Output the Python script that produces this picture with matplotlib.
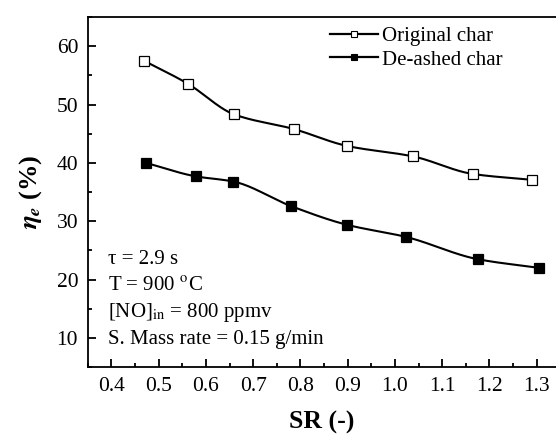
import matplotlib
matplotlib.use("Agg")
import matplotlib.pyplot as plt
import numpy as np
from matplotlib.ticker import MultipleLocator

plt.rcParams['font.family'] = ['Liberation Serif', 'DejaVu Serif']
plt.rcParams['mathtext.fontset'] = 'stix'

# data
sr_orig = [0.469, 0.561, 0.660, 0.786, 0.899, 1.039, 1.165, 1.290]
eta_orig = [57.5, 53.6, 48.3, 45.8, 42.9, 41.1, 38.1, 37.1]
sr_ash = [0.473, 0.578, 0.658, 0.780, 0.898, 1.024, 1.175, 1.306]
eta_ash = [40.0, 37.7, 36.8, 32.6, 29.4, 27.3, 23.5, 22.0]

labels = ['Original char', 'De-ashed char']
notes = ['τ = 2.9 s', r'T = 900 $^{\rm o}$C',
         r'[NO]$_{\rm in}$ = 800 ppmv', 'S. Mass rate = 0.15 g/min']


def pchip(x, y, n=300):
    # monotone cubic (Fritsch-Carlson), only used to draw the connecting line
    x = np.asarray(x, float)
    y = np.asarray(y, float)
    h = np.diff(x)
    d = np.diff(y) / h
    m = np.zeros_like(y)
    for i in range(1, len(x) - 1):
        if d[i - 1] * d[i] > 0:
            w1 = 2 * h[i] + h[i - 1]
            w2 = h[i] + 2 * h[i - 1]
            m[i] = (w1 + w2) / (w1 / d[i - 1] + w2 / d[i])
    m[0] = d[0]
    m[-1] = d[-1]
    xs = np.linspace(x[0], x[-1], n)
    k = np.clip(np.searchsorted(x, xs) - 1, 0, len(x) - 2)
    t = (xs - x[k]) / h[k]
    h00 = 2 * t ** 3 - 3 * t ** 2 + 1
    h10 = t ** 3 - 2 * t ** 2 + t
    h01 = -2 * t ** 3 + 3 * t ** 2
    h11 = t ** 3 - t ** 2
    ys = h00 * y[k] + h10 * h[k] * m[k] + h01 * y[k + 1] + h11 * h[k] * m[k + 1]
    return xs, ys


fig = plt.figure(figsize=(5.56, 4.37), dpi=100)
ax = fig.add_axes([0.158, 0.160, 0.842, 0.801])

for xs, ys, fc, lab in ((sr_orig, eta_orig, 'white', labels[0]),
                        (sr_ash, eta_ash, 'black', labels[1])):
    cx, cy = pchip(xs, ys)
    ax.plot(cx, cy, color='black', lw=1.5, zorder=2)
    ax.plot(xs, ys, ls='none', marker='s', ms=6.5, mfc=fc, mec='black',
            mew=0.9, zorder=3)
    ax.plot([], [], color='black', lw=1.6, marker='s', ms=5, mfc=fc,
            mec='black', mew=0.8, label=lab)

ax.set_xlim(0.35, 1.341)
ax.set_ylim(5, 65)
ax.xaxis.set_major_locator(MultipleLocator(0.1))
ax.xaxis.set_minor_locator(MultipleLocator(0.05))
ax.yaxis.set_minor_locator(MultipleLocator(5))
ax.set_yticks([10, 20, 30, 40, 50, 60])
ax.tick_params(which='both', direction='in', labelsize=15.5, width=1.3,
               top=False, right=False, pad=7)
ax.tick_params(which='major', length=6)
ax.tick_params(which='minor', length=3)
ax.spines['right'].set_visible(False)
for s in ('left', 'bottom', 'top'):
    ax.spines[s].set_linewidth(1.3)

ax.set_xlabel('SR (-)', fontsize=18.5, fontweight='bold', labelpad=11)
ax.set_ylabel(r'$\mathbfit{\eta}_{\mathbfit{e}}$ (%)', fontsize=19,
              fontweight='bold', labelpad=9)

ax.legend(loc='upper right', bbox_to_anchor=(0.918, 1.015), frameon=False,
          fontsize=15, handlelength=2.3, handletextpad=0.2, labelspacing=0.2,
          borderaxespad=0.3)

for i, t in enumerate(notes):
    ax.text(0.392, 23.4 - i * 4.55, t, fontsize=15, va='center', ha='left')

fig.savefig('out.png', dpi=100)
